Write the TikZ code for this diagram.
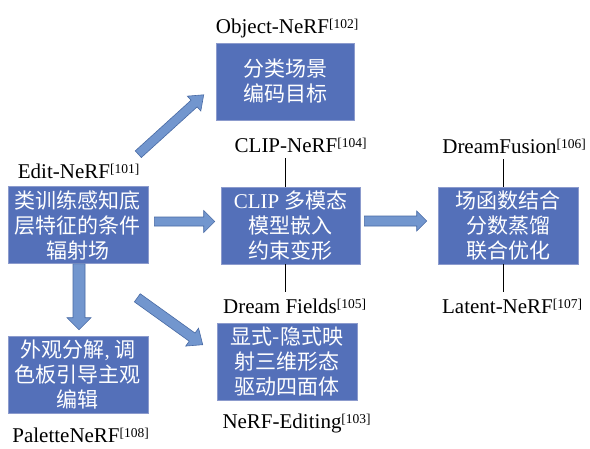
\documentclass[tikz,border=0pt]{standalone}
\usepackage{fontspec}
\setmainfont{Liberation Serif}
\newfontfamily\cjk{Noto Sans CJK SC}
\usetikzlibrary{calc}
\definecolor{boxfill}{RGB}{84,112,185}
\definecolor{boxline}{RGB}{140,155,205}
\definecolor{arrfill}{RGB}{114,150,206}
\definecolor{arrline}{RGB}{72,106,164}
\newcommand\refsup[1]{\rlap{\raisebox{5pt}{\fontsize{13.5}{14}\selectfont[#1]}}}
\tikzset{
 box/.style={draw=boxline, line width=0.6pt, fill=boxfill, text=white,
   minimum width=140pt, minimum height=77pt, inner sep=0pt, align=center,
   font=\cjk\fontsize{21}{25}\selectfont},
 lab/.style={inner sep=6pt, anchor=base, font=\fontsize{21}{24}\selectfont},
 blk/.style={fill=arrfill, draw=arrline, line width=0.6pt, line join=miter},
 blockarrow/.style args={#1/#2/#3}{to path={let \p3=($(\tikztotarget)!#3!(\tikztostart)$) in
   ($(\tikztostart)!#1!90:(\tikztotarget)$) -- ($(\p3)!#1!90:(\tikztotarget)$)
   -- ($(\p3)!#2!90:(\tikztotarget)$) -- (\tikztotarget)
   -- ($(\p3)!#2!-90:(\tikztotarget)$) -- ($(\p3)!#1!-90:(\tikztotarget)$)
   -- ($(\tikztostart)!#1!-90:(\tikztotarget)$) -- cycle}},
 stem/.style={line width=0.7pt, draw=black}
}
\begin{document}
\begin{tikzpicture}[x=1pt,y=-1pt]
\fill[white] (0,0) rectangle (590,448);
\useasboundingbox (0,0) rectangle (590,448);

% boxes
\node[box, minimum width=138pt] (obj) at (285,81.5) {分类场景\\编码目标};
\node[box] (edit) at (78,225) {类训练感知底\\层特征的条件\\辐射场};
\node[box, minimum width=139pt] (clip) at (290.5,225.5) {{\rmfamily CLIP} 多模态\\模型嵌入\\约束变形};
\node[box] (dream) at (508,225.5) {场函数结合\\分数蒸馏\\联合优化};
\node[box] (pal) at (78,374.5) {外观分解{\rmfamily ,} 调\\色板引导主观\\编辑};
\node[box] (ned) at (287,361.5) {显式-隐式映\\射三维形态\\驱动四面体};

% labels
\node[lab] (objlab) at (272.5,33) {Object-NeRF\refsup{102}};
\node[lab] (cliplab) at (286,152) {CLIP-NeRF\refsup{104}};
\node[lab] (dflab) at (280,313) {Dream Fields\refsup{105}};
\node[lab] (dfulab) at (499.5,153) {DreamFusion\refsup{106}};
\node[lab] (latlab) at (497.5,313) {Latent-NeRF\refsup{107}};
\node[lab] (editlab) at (64,178) {Edit-NeRF\refsup{101}};
\node[lab, inner sep=0.5pt] (pallab) at (66,442) {PaletteNeRF\refsup{108}};
\node[lab] (nedlab) at (282,428) {NeRF-Editing\refsup{103}};

% stems
\coordinate (ct) at ($(clip.north)+(-5.5,0)$);
\coordinate (cb) at ($(clip.south)+(-5.5,0)$);
\coordinate (dt) at ($(dream.north)+(-5,0)$);
\coordinate (db) at ($(dream.south)+(-5,0)$);
\draw[stem] (ct) -- (ct |- cliplab.south);
\draw[stem] (cb) -- (cb |- dflab.north);
\draw[stem] (dt) -- (dt |- dfulab.south);
\draw[stem] (db) -- (db |- latlab.north);

% block arrows
\path[blk] ([xshift=6pt,yshift=3.5pt]edit.east) to[blockarrow=4.5pt/11pt/11pt] ([xshift=-6pt,yshift=4pt]clip.west);
\path[blk] ([xshift=4pt,yshift=4.5pt]clip.east) to[blockarrow=5pt/10pt/10pt] ([xshift=-11pt,yshift=4.5pt]dream.west);
\path[blk] ([xshift=1pt]edit.south) to[blockarrow=6pt/12pt/12pt] ([xshift=1pt,yshift=6pt]pal.north);
\path[blk] ([xshift=-11pt,yshift=-34pt]edit.south east) to[blockarrow=5pt/11pt/13pt] ([xshift=-14pt,yshift=-22pt]ned.north west);
\path[blk] ([xshift=-10pt,yshift=32pt]edit.north east) to[blockarrow=4.5pt/10pt/13pt] ([xshift=-12pt,yshift=25.5pt]obj.south west);
\end{tikzpicture}
\end{document}
